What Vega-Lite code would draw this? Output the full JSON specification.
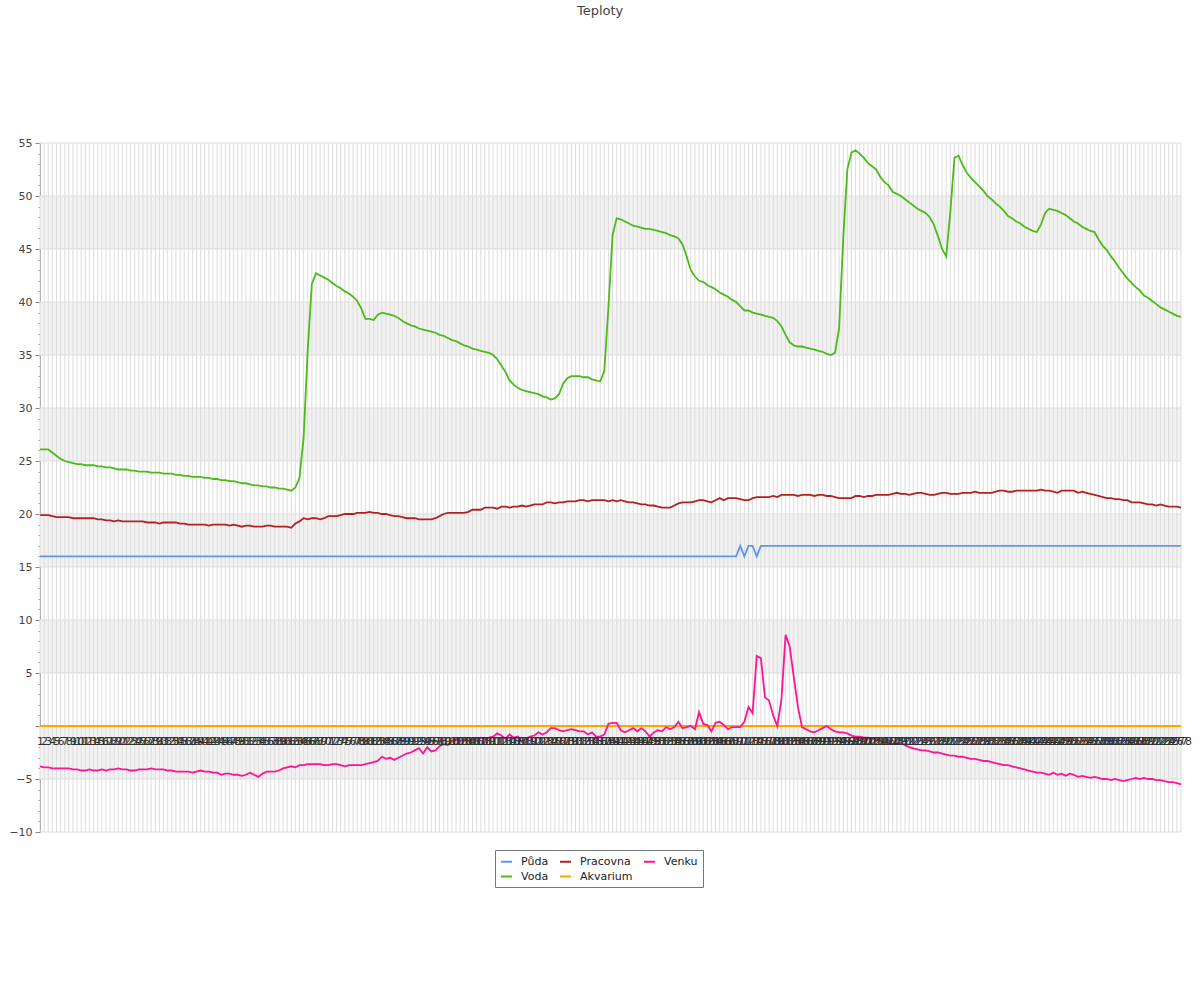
{
"$schema": "https://vega.github.io/schema/vega-lite/v6.json",
"width": 1141, "height": 689,
"autosize": {"type": "none"},
"padding": {"left": 40, "top": 143, "right": 19, "bottom": 168},
"background": "white",
"config": {"font": "DejaVu Sans", "view": {"stroke": null}},
"title": {"text": "Teploty", "fontSize": 13, "fontWeight": "normal", "color": "#444", "anchor": "middle", "frame": "bounds", "offset": 119},
"datasets": {
"bands": [{"lo": -5, "hi": 0}, {"lo": 5, "hi": 10}, {"lo": 15, "hi": 20}, {"lo": 25, "hi": 30}, {"lo": 35, "hi": 40}, {"lo": 45, "hi": 50}],
"hgrid": [{"g": -10}, {"g": -5}, {"g": 0}, {"g": 5}, {"g": 10}, {"g": 15}, {"g": 20}, {"g": 25}, {"g": 30}, {"g": 35}, {"g": 40}, {"g": 45}, {"g": 50}, {"g": 55}]
},
"data": {"values": [
{"t":1,"Půda":16,"Voda":26.1,"Pracovna":19.9,"Akvarium":0,"Venku":-3.8},
{"t":2,"Půda":16,"Voda":26.1,"Pracovna":19.9,"Akvarium":0,"Venku":-3.9},
{"t":3,"Půda":16,"Voda":26.1,"Pracovna":19.9,"Akvarium":0,"Venku":-3.9},
{"t":4,"Půda":16,"Voda":25.8,"Pracovna":19.8,"Akvarium":0,"Venku":-4.0},
{"t":5,"Půda":16,"Voda":25.5,"Pracovna":19.7,"Akvarium":0,"Venku":-4.0},
{"t":6,"Půda":16,"Voda":25.2,"Pracovna":19.7,"Akvarium":0,"Venku":-4.0},
{"t":7,"Půda":16,"Voda":25.0,"Pracovna":19.7,"Akvarium":0,"Venku":-4.0},
{"t":8,"Půda":16,"Voda":24.9,"Pracovna":19.7,"Akvarium":0,"Venku":-4.0},
{"t":9,"Půda":16,"Voda":24.8,"Pracovna":19.6,"Akvarium":0,"Venku":-4.1},
{"t":10,"Půda":16,"Voda":24.7,"Pracovna":19.6,"Akvarium":0,"Venku":-4.1},
{"t":11,"Půda":16,"Voda":24.7,"Pracovna":19.6,"Akvarium":0,"Venku":-4.2},
{"t":12,"Půda":16,"Voda":24.6,"Pracovna":19.6,"Akvarium":0,"Venku":-4.2},
{"t":13,"Půda":16,"Voda":24.6,"Pracovna":19.6,"Akvarium":0,"Venku":-4.1},
{"t":14,"Půda":16,"Voda":24.6,"Pracovna":19.6,"Akvarium":0,"Venku":-4.2},
{"t":15,"Půda":16,"Voda":24.5,"Pracovna":19.5,"Akvarium":0,"Venku":-4.2},
{"t":16,"Půda":16,"Voda":24.5,"Pracovna":19.5,"Akvarium":0,"Venku":-4.1},
{"t":17,"Půda":16,"Voda":24.4,"Pracovna":19.4,"Akvarium":0,"Venku":-4.2},
{"t":18,"Půda":16,"Voda":24.4,"Pracovna":19.4,"Akvarium":0,"Venku":-4.1},
{"t":19,"Půda":16,"Voda":24.3,"Pracovna":19.3,"Akvarium":0,"Venku":-4.1},
{"t":20,"Půda":16,"Voda":24.2,"Pracovna":19.4,"Akvarium":0,"Venku":-4.0},
{"t":21,"Půda":16,"Voda":24.2,"Pracovna":19.3,"Akvarium":0,"Venku":-4.1},
{"t":22,"Půda":16,"Voda":24.2,"Pracovna":19.3,"Akvarium":0,"Venku":-4.1},
{"t":23,"Půda":16,"Voda":24.1,"Pracovna":19.3,"Akvarium":0,"Venku":-4.2},
{"t":24,"Půda":16,"Voda":24.1,"Pracovna":19.3,"Akvarium":0,"Venku":-4.2},
{"t":25,"Půda":16,"Voda":24.0,"Pracovna":19.3,"Akvarium":0,"Venku":-4.1},
{"t":26,"Půda":16,"Voda":24.0,"Pracovna":19.3,"Akvarium":0,"Venku":-4.1},
{"t":27,"Půda":16,"Voda":24.0,"Pracovna":19.2,"Akvarium":0,"Venku":-4.1},
{"t":28,"Půda":16,"Voda":23.9,"Pracovna":19.2,"Akvarium":0,"Venku":-4.0},
{"t":29,"Půda":16,"Voda":23.9,"Pracovna":19.2,"Akvarium":0,"Venku":-4.1},
{"t":30,"Půda":16,"Voda":23.9,"Pracovna":19.1,"Akvarium":0,"Venku":-4.1},
{"t":31,"Půda":16,"Voda":23.8,"Pracovna":19.2,"Akvarium":0,"Venku":-4.1},
{"t":32,"Půda":16,"Voda":23.8,"Pracovna":19.2,"Akvarium":0,"Venku":-4.2},
{"t":33,"Půda":16,"Voda":23.8,"Pracovna":19.2,"Akvarium":0,"Venku":-4.2},
{"t":34,"Půda":16,"Voda":23.7,"Pracovna":19.2,"Akvarium":0,"Venku":-4.3},
{"t":35,"Půda":16,"Voda":23.7,"Pracovna":19.1,"Akvarium":0,"Venku":-4.3},
{"t":36,"Půda":16,"Voda":23.6,"Pracovna":19.1,"Akvarium":0,"Venku":-4.3},
{"t":37,"Půda":16,"Voda":23.6,"Pracovna":19.0,"Akvarium":0,"Venku":-4.3},
{"t":38,"Půda":16,"Voda":23.5,"Pracovna":19.0,"Akvarium":0,"Venku":-4.4},
{"t":39,"Půda":16,"Voda":23.5,"Pracovna":19.0,"Akvarium":0,"Venku":-4.3},
{"t":40,"Půda":16,"Voda":23.5,"Pracovna":19.0,"Akvarium":0,"Venku":-4.2},
{"t":41,"Půda":16,"Voda":23.4,"Pracovna":19.0,"Akvarium":0,"Venku":-4.3},
{"t":42,"Půda":16,"Voda":23.4,"Pracovna":18.9,"Akvarium":0,"Venku":-4.3},
{"t":43,"Půda":16,"Voda":23.3,"Pracovna":19.0,"Akvarium":0,"Venku":-4.4},
{"t":44,"Půda":16,"Voda":23.3,"Pracovna":19.0,"Akvarium":0,"Venku":-4.4},
{"t":45,"Půda":16,"Voda":23.2,"Pracovna":19.0,"Akvarium":0,"Venku":-4.6},
{"t":46,"Půda":16,"Voda":23.2,"Pracovna":19.0,"Akvarium":0,"Venku":-4.5},
{"t":47,"Půda":16,"Voda":23.1,"Pracovna":18.9,"Akvarium":0,"Venku":-4.5},
{"t":48,"Půda":16,"Voda":23.1,"Pracovna":19.0,"Akvarium":0,"Venku":-4.6},
{"t":49,"Půda":16,"Voda":23.0,"Pracovna":18.9,"Akvarium":0,"Venku":-4.6},
{"t":50,"Půda":16,"Voda":22.9,"Pracovna":18.8,"Akvarium":0,"Venku":-4.7},
{"t":51,"Půda":16,"Voda":22.9,"Pracovna":18.9,"Akvarium":0,"Venku":-4.6},
{"t":52,"Půda":16,"Voda":22.8,"Pracovna":18.9,"Akvarium":0,"Venku":-4.4},
{"t":53,"Půda":16,"Voda":22.7,"Pracovna":18.8,"Akvarium":0,"Venku":-4.6},
{"t":54,"Půda":16,"Voda":22.7,"Pracovna":18.8,"Akvarium":0,"Venku":-4.8},
{"t":55,"Půda":16,"Voda":22.6,"Pracovna":18.8,"Akvarium":0,"Venku":-4.5},
{"t":56,"Půda":16,"Voda":22.6,"Pracovna":18.9,"Akvarium":0,"Venku":-4.3},
{"t":57,"Půda":16,"Voda":22.5,"Pracovna":18.9,"Akvarium":0,"Venku":-4.3},
{"t":58,"Půda":16,"Voda":22.5,"Pracovna":18.8,"Akvarium":0,"Venku":-4.3},
{"t":59,"Půda":16,"Voda":22.4,"Pracovna":18.8,"Akvarium":0,"Venku":-4.2},
{"t":60,"Půda":16,"Voda":22.4,"Pracovna":18.8,"Akvarium":0,"Venku":-4.0},
{"t":61,"Půda":16,"Voda":22.3,"Pracovna":18.8,"Akvarium":0,"Venku":-3.9},
{"t":62,"Půda":16,"Voda":22.2,"Pracovna":18.7,"Akvarium":0,"Venku":-3.8},
{"t":63,"Půda":16,"Voda":22.5,"Pracovna":19.1,"Akvarium":0,"Venku":-3.9},
{"t":64,"Půda":16,"Voda":23.4,"Pracovna":19.3,"Akvarium":0,"Venku":-3.7},
{"t":65,"Půda":16,"Voda":27.2,"Pracovna":19.6,"Akvarium":0,"Venku":-3.7},
{"t":66,"Půda":16,"Voda":35.5,"Pracovna":19.5,"Akvarium":0,"Venku":-3.6},
{"t":67,"Půda":16,"Voda":41.7,"Pracovna":19.6,"Akvarium":0,"Venku":-3.6},
{"t":68,"Půda":16,"Voda":42.7,"Pracovna":19.6,"Akvarium":0,"Venku":-3.6},
{"t":69,"Půda":16,"Voda":42.5,"Pracovna":19.5,"Akvarium":0,"Venku":-3.6},
{"t":70,"Půda":16,"Voda":42.3,"Pracovna":19.6,"Akvarium":0,"Venku":-3.7},
{"t":71,"Půda":16,"Voda":42.1,"Pracovna":19.8,"Akvarium":0,"Venku":-3.7},
{"t":72,"Půda":16,"Voda":41.8,"Pracovna":19.8,"Akvarium":0,"Venku":-3.6},
{"t":73,"Půda":16,"Voda":41.5,"Pracovna":19.8,"Akvarium":0,"Venku":-3.6},
{"t":74,"Půda":16,"Voda":41.3,"Pracovna":19.9,"Akvarium":0,"Venku":-3.7},
{"t":75,"Půda":16,"Voda":41.0,"Pracovna":20.0,"Akvarium":0,"Venku":-3.8},
{"t":76,"Půda":16,"Voda":40.8,"Pracovna":20.0,"Akvarium":0,"Venku":-3.7},
{"t":77,"Půda":16,"Voda":40.5,"Pracovna":20.0,"Akvarium":0,"Venku":-3.7},
{"t":78,"Půda":16,"Voda":40.1,"Pracovna":20.1,"Akvarium":0,"Venku":-3.7},
{"t":79,"Půda":16,"Voda":39.4,"Pracovna":20.1,"Akvarium":0,"Venku":-3.7},
{"t":80,"Půda":16,"Voda":38.4,"Pracovna":20.1,"Akvarium":0,"Venku":-3.6},
{"t":81,"Půda":16,"Voda":38.4,"Pracovna":20.2,"Akvarium":0,"Venku":-3.5},
{"t":82,"Půda":16,"Voda":38.3,"Pracovna":20.1,"Akvarium":0,"Venku":-3.4},
{"t":83,"Půda":16,"Voda":38.8,"Pracovna":20.1,"Akvarium":0,"Venku":-3.3},
{"t":84,"Půda":16,"Voda":39.0,"Pracovna":20.0,"Akvarium":0,"Venku":-2.9},
{"t":85,"Půda":16,"Voda":38.9,"Pracovna":20.0,"Akvarium":0,"Venku":-3.1},
{"t":86,"Půda":16,"Voda":38.8,"Pracovna":19.9,"Akvarium":0,"Venku":-3.0},
{"t":87,"Půda":16,"Voda":38.7,"Pracovna":19.8,"Akvarium":0,"Venku":-3.2},
{"t":88,"Půda":16,"Voda":38.5,"Pracovna":19.8,"Akvarium":0,"Venku":-3.0},
{"t":89,"Půda":16,"Voda":38.2,"Pracovna":19.7,"Akvarium":0,"Venku":-2.8},
{"t":90,"Půda":16,"Voda":38.0,"Pracovna":19.6,"Akvarium":0,"Venku":-2.6},
{"t":91,"Půda":16,"Voda":37.8,"Pracovna":19.6,"Akvarium":0,"Venku":-2.5},
{"t":92,"Půda":16,"Voda":37.7,"Pracovna":19.6,"Akvarium":0,"Venku":-2.3},
{"t":93,"Půda":16,"Voda":37.5,"Pracovna":19.5,"Akvarium":0,"Venku":-2.1},
{"t":94,"Půda":16,"Voda":37.4,"Pracovna":19.5,"Akvarium":0,"Venku":-2.6},
{"t":95,"Půda":16,"Voda":37.3,"Pracovna":19.5,"Akvarium":0,"Venku":-2.0},
{"t":96,"Půda":16,"Voda":37.2,"Pracovna":19.5,"Akvarium":0,"Venku":-2.4},
{"t":97,"Půda":16,"Voda":37.1,"Pracovna":19.6,"Akvarium":0,"Venku":-2.3},
{"t":98,"Půda":16,"Voda":36.9,"Pracovna":19.8,"Akvarium":0,"Venku":-1.9},
{"t":99,"Půda":16,"Voda":36.8,"Pracovna":20.0,"Akvarium":0,"Venku":-1.7},
{"t":100,"Půda":16,"Voda":36.6,"Pracovna":20.1,"Akvarium":0,"Venku":-1.8},
{"t":101,"Půda":16,"Voda":36.4,"Pracovna":20.1,"Akvarium":0,"Venku":-1.4},
{"t":102,"Půda":16,"Voda":36.3,"Pracovna":20.1,"Akvarium":0,"Venku":-1.3},
{"t":103,"Půda":16,"Voda":36.1,"Pracovna":20.1,"Akvarium":0,"Venku":-1.4},
{"t":104,"Půda":16,"Voda":35.9,"Pracovna":20.1,"Akvarium":0,"Venku":-1.3},
{"t":105,"Půda":16,"Voda":35.8,"Pracovna":20.2,"Akvarium":0,"Venku":-1.4},
{"t":106,"Půda":16,"Voda":35.6,"Pracovna":20.4,"Akvarium":0,"Venku":-1.3},
{"t":107,"Půda":16,"Voda":35.5,"Pracovna":20.4,"Akvarium":0,"Venku":-1.2},
{"t":108,"Půda":16,"Voda":35.4,"Pracovna":20.4,"Akvarium":0,"Venku":-1.1},
{"t":109,"Půda":16,"Voda":35.3,"Pracovna":20.6,"Akvarium":0,"Venku":-1.2},
{"t":110,"Půda":16,"Voda":35.2,"Pracovna":20.6,"Akvarium":0,"Venku":-1.1},
{"t":111,"Půda":16,"Voda":35.0,"Pracovna":20.6,"Akvarium":0,"Venku":-1.0},
{"t":112,"Půda":16,"Voda":34.6,"Pracovna":20.5,"Akvarium":0,"Venku":-0.7},
{"t":113,"Půda":16,"Voda":34.0,"Pracovna":20.7,"Akvarium":0,"Venku":-0.9},
{"t":114,"Půda":16,"Voda":33.4,"Pracovna":20.7,"Akvarium":0,"Venku":-1.2},
{"t":115,"Půda":16,"Voda":32.6,"Pracovna":20.6,"Akvarium":0,"Venku":-0.8},
{"t":116,"Půda":16,"Voda":32.2,"Pracovna":20.7,"Akvarium":0,"Venku":-1.1},
{"t":117,"Půda":16,"Voda":31.9,"Pracovna":20.7,"Akvarium":0,"Venku":-1.0},
{"t":118,"Půda":16,"Voda":31.7,"Pracovna":20.8,"Akvarium":0,"Venku":-1.5},
{"t":119,"Půda":16,"Voda":31.6,"Pracovna":20.7,"Akvarium":0,"Venku":-1.2},
{"t":120,"Půda":16,"Voda":31.5,"Pracovna":20.8,"Akvarium":0,"Venku":-1.0},
{"t":121,"Půda":16,"Voda":31.4,"Pracovna":20.9,"Akvarium":0,"Venku":-0.9},
{"t":122,"Půda":16,"Voda":31.3,"Pracovna":20.9,"Akvarium":0,"Venku":-0.6},
{"t":123,"Půda":16,"Voda":31.1,"Pracovna":20.9,"Akvarium":0,"Venku":-0.8},
{"t":124,"Půda":16,"Voda":31.0,"Pracovna":21.1,"Akvarium":0,"Venku":-0.6},
{"t":125,"Půda":16,"Voda":30.8,"Pracovna":21.1,"Akvarium":0,"Venku":-0.2},
{"t":126,"Půda":16,"Voda":30.9,"Pracovna":21.0,"Akvarium":0,"Venku":-0.2},
{"t":127,"Půda":16,"Voda":31.3,"Pracovna":21.1,"Akvarium":0,"Venku":-0.4},
{"t":128,"Půda":16,"Voda":32.3,"Pracovna":21.1,"Akvarium":0,"Venku":-0.5},
{"t":129,"Půda":16,"Voda":32.8,"Pracovna":21.2,"Akvarium":0,"Venku":-0.4},
{"t":130,"Půda":16,"Voda":33.0,"Pracovna":21.2,"Akvarium":0,"Venku":-0.3},
{"t":131,"Půda":16,"Voda":33.0,"Pracovna":21.2,"Akvarium":0,"Venku":-0.4},
{"t":132,"Půda":16,"Voda":33.0,"Pracovna":21.3,"Akvarium":0,"Venku":-0.5},
{"t":133,"Půda":16,"Voda":32.9,"Pracovna":21.3,"Akvarium":0,"Venku":-0.5},
{"t":134,"Půda":16,"Voda":32.9,"Pracovna":21.2,"Akvarium":0,"Venku":-0.8},
{"t":135,"Půda":16,"Voda":32.7,"Pracovna":21.3,"Akvarium":0,"Venku":-0.6},
{"t":136,"Půda":16,"Voda":32.6,"Pracovna":21.3,"Akvarium":0,"Venku":-1.0},
{"t":137,"Půda":16,"Voda":32.5,"Pracovna":21.3,"Akvarium":0,"Venku":-1.0},
{"t":138,"Půda":16,"Voda":33.5,"Pracovna":21.3,"Akvarium":0,"Venku":-0.8},
{"t":139,"Půda":16,"Voda":39.5,"Pracovna":21.2,"Akvarium":0,"Venku":0.2},
{"t":140,"Půda":16,"Voda":46.3,"Pracovna":21.3,"Akvarium":0,"Venku":0.3},
{"t":141,"Půda":16,"Voda":47.9,"Pracovna":21.2,"Akvarium":0,"Venku":0.3},
{"t":142,"Půda":16,"Voda":47.8,"Pracovna":21.3,"Akvarium":0,"Venku":-0.4},
{"t":143,"Půda":16,"Voda":47.6,"Pracovna":21.2,"Akvarium":0,"Venku":-0.6},
{"t":144,"Půda":16,"Voda":47.4,"Pracovna":21.1,"Akvarium":0,"Venku":-0.4},
{"t":145,"Půda":16,"Voda":47.2,"Pracovna":21.1,"Akvarium":0,"Venku":-0.2},
{"t":146,"Půda":16,"Voda":47.1,"Pracovna":21.0,"Akvarium":0,"Venku":-0.5},
{"t":147,"Půda":16,"Voda":47.0,"Pracovna":20.9,"Akvarium":0,"Venku":-0.2},
{"t":148,"Půda":16,"Voda":46.9,"Pracovna":20.9,"Akvarium":0,"Venku":-0.5},
{"t":149,"Půda":16,"Voda":46.9,"Pracovna":20.8,"Akvarium":0,"Venku":-1.0},
{"t":150,"Půda":16,"Voda":46.8,"Pracovna":20.8,"Akvarium":0,"Venku":-0.6},
{"t":151,"Půda":16,"Voda":46.7,"Pracovna":20.7,"Akvarium":0,"Venku":-0.4},
{"t":152,"Půda":16,"Voda":46.6,"Pracovna":20.6,"Akvarium":0,"Venku":-0.5},
{"t":153,"Půda":16,"Voda":46.5,"Pracovna":20.6,"Akvarium":0,"Venku":-0.1},
{"t":154,"Půda":16,"Voda":46.3,"Pracovna":20.6,"Akvarium":0,"Venku":-0.3},
{"t":155,"Půda":16,"Voda":46.2,"Pracovna":20.8,"Akvarium":0,"Venku":-0.1},
{"t":156,"Půda":16,"Voda":46.0,"Pracovna":21.0,"Akvarium":0,"Venku":0.4},
{"t":157,"Půda":16,"Voda":45.4,"Pracovna":21.1,"Akvarium":0,"Venku":-0.2},
{"t":158,"Půda":16,"Voda":44.3,"Pracovna":21.1,"Akvarium":0,"Venku":-0.1},
{"t":159,"Půda":16,"Voda":43.0,"Pracovna":21.1,"Akvarium":0,"Venku":0.0},
{"t":160,"Půda":16,"Voda":42.4,"Pracovna":21.2,"Akvarium":0,"Venku":-0.3},
{"t":161,"Půda":16,"Voda":42.0,"Pracovna":21.3,"Akvarium":0,"Venku":1.3},
{"t":162,"Půda":16,"Voda":41.9,"Pracovna":21.3,"Akvarium":0,"Venku":0.2},
{"t":163,"Půda":16,"Voda":41.6,"Pracovna":21.2,"Akvarium":0,"Venku":0.1},
{"t":164,"Půda":16,"Voda":41.4,"Pracovna":21.1,"Akvarium":0,"Venku":-0.5},
{"t":165,"Půda":16,"Voda":41.2,"Pracovna":21.3,"Akvarium":0,"Venku":0.3},
{"t":166,"Půda":16,"Voda":40.9,"Pracovna":21.5,"Akvarium":0,"Venku":0.4},
{"t":167,"Půda":16,"Voda":40.7,"Pracovna":21.3,"Akvarium":0,"Venku":0.1},
{"t":168,"Půda":16,"Voda":40.5,"Pracovna":21.5,"Akvarium":0,"Venku":-0.3},
{"t":169,"Půda":16,"Voda":40.2,"Pracovna":21.5,"Akvarium":0,"Venku":-0.1},
{"t":170,"Půda":16,"Voda":40.0,"Pracovna":21.5,"Akvarium":0,"Venku":-0.1},
{"t":171,"Půda":17,"Voda":39.6,"Pracovna":21.4,"Akvarium":0,"Venku":-0.1},
{"t":172,"Půda":16,"Voda":39.2,"Pracovna":21.3,"Akvarium":0,"Venku":0.4},
{"t":173,"Půda":17,"Voda":39.2,"Pracovna":21.3,"Akvarium":0,"Venku":1.8},
{"t":174,"Půda":17,"Voda":39.0,"Pracovna":21.5,"Akvarium":0,"Venku":1.2},
{"t":175,"Půda":16,"Voda":38.9,"Pracovna":21.6,"Akvarium":0,"Venku":6.6},
{"t":176,"Půda":17,"Voda":38.8,"Pracovna":21.6,"Akvarium":0,"Venku":6.4},
{"t":177,"Půda":17,"Voda":38.7,"Pracovna":21.6,"Akvarium":0,"Venku":2.7},
{"t":178,"Půda":17,"Voda":38.6,"Pracovna":21.6,"Akvarium":0,"Venku":2.4},
{"t":179,"Půda":17,"Voda":38.5,"Pracovna":21.7,"Akvarium":0,"Venku":1.0},
{"t":180,"Půda":17,"Voda":38.2,"Pracovna":21.6,"Akvarium":0,"Venku":0.0},
{"t":181,"Půda":17,"Voda":37.7,"Pracovna":21.8,"Akvarium":0,"Venku":2.5},
{"t":182,"Půda":17,"Voda":36.9,"Pracovna":21.8,"Akvarium":0,"Venku":8.6},
{"t":183,"Půda":17,"Voda":36.2,"Pracovna":21.8,"Akvarium":0,"Venku":7.5},
{"t":184,"Půda":17,"Voda":35.9,"Pracovna":21.8,"Akvarium":0,"Venku":4.6},
{"t":185,"Půda":17,"Voda":35.8,"Pracovna":21.7,"Akvarium":0,"Venku":1.8},
{"t":186,"Půda":17,"Voda":35.8,"Pracovna":21.8,"Akvarium":0,"Venku":-0.1},
{"t":187,"Půda":17,"Voda":35.7,"Pracovna":21.8,"Akvarium":0,"Venku":-0.3},
{"t":188,"Půda":17,"Voda":35.6,"Pracovna":21.8,"Akvarium":0,"Venku":-0.5},
{"t":189,"Půda":17,"Voda":35.5,"Pracovna":21.7,"Akvarium":0,"Venku":-0.6},
{"t":190,"Půda":17,"Voda":35.4,"Pracovna":21.8,"Akvarium":0,"Venku":-0.4},
{"t":191,"Půda":17,"Voda":35.3,"Pracovna":21.8,"Akvarium":0,"Venku":-0.2},
{"t":192,"Půda":17,"Voda":35.1,"Pracovna":21.7,"Akvarium":0,"Venku":0.0},
{"t":193,"Půda":17,"Voda":35.0,"Pracovna":21.7,"Akvarium":0,"Venku":-0.3},
{"t":194,"Půda":17,"Voda":35.2,"Pracovna":21.6,"Akvarium":0,"Venku":-0.5},
{"t":195,"Půda":17,"Voda":37.5,"Pracovna":21.5,"Akvarium":0,"Venku":-0.6},
{"t":196,"Půda":17,"Voda":46.0,"Pracovna":21.5,"Akvarium":0,"Venku":-0.6},
{"t":197,"Půda":17,"Voda":52.5,"Pracovna":21.5,"Akvarium":0,"Venku":-0.7},
{"t":198,"Půda":17,"Voda":54.1,"Pracovna":21.5,"Akvarium":0,"Venku":-0.9},
{"t":199,"Půda":17,"Voda":54.3,"Pracovna":21.7,"Akvarium":0,"Venku":-1.0},
{"t":200,"Půda":17,"Voda":54.0,"Pracovna":21.7,"Akvarium":0,"Venku":-1.0},
{"t":201,"Půda":17,"Voda":53.6,"Pracovna":21.6,"Akvarium":0,"Venku":-1.1},
{"t":202,"Půda":17,"Voda":53.1,"Pracovna":21.7,"Akvarium":0,"Venku":-1.1},
{"t":203,"Půda":17,"Voda":52.8,"Pracovna":21.7,"Akvarium":0,"Venku":-1.2},
{"t":204,"Půda":17,"Voda":52.5,"Pracovna":21.8,"Akvarium":0,"Venku":-1.3},
{"t":205,"Půda":17,"Voda":51.8,"Pracovna":21.8,"Akvarium":0,"Venku":-1.4},
{"t":206,"Půda":17,"Voda":51.3,"Pracovna":21.8,"Akvarium":0,"Venku":-1.5},
{"t":207,"Půda":17,"Voda":51.0,"Pracovna":21.8,"Akvarium":0,"Venku":-1.6},
{"t":208,"Půda":17,"Voda":50.4,"Pracovna":21.9,"Akvarium":0,"Venku":-1.7},
{"t":209,"Půda":17,"Voda":50.2,"Pracovna":22.0,"Akvarium":0,"Venku":-1.7},
{"t":210,"Půda":17,"Voda":50.0,"Pracovna":21.9,"Akvarium":0,"Venku":-1.6},
{"t":211,"Půda":17,"Voda":49.7,"Pracovna":21.9,"Akvarium":0,"Venku":-1.8},
{"t":212,"Půda":17,"Voda":49.4,"Pracovna":21.8,"Akvarium":0,"Venku":-2.0},
{"t":213,"Půda":17,"Voda":49.1,"Pracovna":21.9,"Akvarium":0,"Venku":-2.1},
{"t":214,"Půda":17,"Voda":48.8,"Pracovna":22.0,"Akvarium":0,"Venku":-2.2},
{"t":215,"Půda":17,"Voda":48.6,"Pracovna":22.0,"Akvarium":0,"Venku":-2.3},
{"t":216,"Půda":17,"Voda":48.4,"Pracovna":21.9,"Akvarium":0,"Venku":-2.3},
{"t":217,"Půda":17,"Voda":48.0,"Pracovna":21.8,"Akvarium":0,"Venku":-2.4},
{"t":218,"Půda":17,"Voda":47.3,"Pracovna":21.8,"Akvarium":0,"Venku":-2.5},
{"t":219,"Půda":17,"Voda":46.2,"Pracovna":21.9,"Akvarium":0,"Venku":-2.5},
{"t":220,"Půda":17,"Voda":45.0,"Pracovna":22.0,"Akvarium":0,"Venku":-2.6},
{"t":221,"Půda":17,"Voda":44.3,"Pracovna":22.0,"Akvarium":0,"Venku":-2.7},
{"t":222,"Půda":17,"Voda":48.5,"Pracovna":21.9,"Akvarium":0,"Venku":-2.8},
{"t":223,"Půda":17,"Voda":53.6,"Pracovna":21.9,"Akvarium":0,"Venku":-2.8},
{"t":224,"Půda":17,"Voda":53.8,"Pracovna":21.9,"Akvarium":0,"Venku":-2.9},
{"t":225,"Půda":17,"Voda":52.9,"Pracovna":22.0,"Akvarium":0,"Venku":-2.9},
{"t":226,"Půda":17,"Voda":52.2,"Pracovna":22.0,"Akvarium":0,"Venku":-3.0},
{"t":227,"Půda":17,"Voda":51.7,"Pracovna":22.0,"Akvarium":0,"Venku":-3.1},
{"t":228,"Půda":17,"Voda":51.3,"Pracovna":22.1,"Akvarium":0,"Venku":-3.1},
{"t":229,"Půda":17,"Voda":50.9,"Pracovna":22.0,"Akvarium":0,"Venku":-3.2},
{"t":230,"Půda":17,"Voda":50.5,"Pracovna":22.0,"Akvarium":0,"Venku":-3.3},
{"t":231,"Půda":17,"Voda":50.0,"Pracovna":22.0,"Akvarium":0,"Venku":-3.3},
{"t":232,"Půda":17,"Voda":49.7,"Pracovna":22.0,"Akvarium":0,"Venku":-3.4},
{"t":233,"Půda":17,"Voda":49.3,"Pracovna":22.1,"Akvarium":0,"Venku":-3.5},
{"t":234,"Půda":17,"Voda":49.0,"Pracovna":22.2,"Akvarium":0,"Venku":-3.6},
{"t":235,"Půda":17,"Voda":48.6,"Pracovna":22.2,"Akvarium":0,"Venku":-3.7},
{"t":236,"Půda":17,"Voda":48.1,"Pracovna":22.1,"Akvarium":0,"Venku":-3.7},
{"t":237,"Půda":17,"Voda":47.9,"Pracovna":22.1,"Akvarium":0,"Venku":-3.8},
{"t":238,"Půda":17,"Voda":47.6,"Pracovna":22.2,"Akvarium":0,"Venku":-3.9},
{"t":239,"Půda":17,"Voda":47.4,"Pracovna":22.2,"Akvarium":0,"Venku":-4.0},
{"t":240,"Půda":17,"Voda":47.1,"Pracovna":22.2,"Akvarium":0,"Venku":-4.1},
{"t":241,"Půda":17,"Voda":46.9,"Pracovna":22.2,"Akvarium":0,"Venku":-4.2},
{"t":242,"Půda":17,"Voda":46.7,"Pracovna":22.2,"Akvarium":0,"Venku":-4.3},
{"t":243,"Půda":17,"Voda":46.6,"Pracovna":22.2,"Akvarium":0,"Venku":-4.4},
{"t":244,"Půda":17,"Voda":47.3,"Pracovna":22.3,"Akvarium":0,"Venku":-4.4},
{"t":245,"Půda":17,"Voda":48.4,"Pracovna":22.2,"Akvarium":0,"Venku":-4.5},
{"t":246,"Půda":17,"Voda":48.8,"Pracovna":22.2,"Akvarium":0,"Venku":-4.6},
{"t":247,"Půda":17,"Voda":48.7,"Pracovna":22.1,"Akvarium":0,"Venku":-4.4},
{"t":248,"Půda":17,"Voda":48.6,"Pracovna":22.0,"Akvarium":0,"Venku":-4.6},
{"t":249,"Půda":17,"Voda":48.4,"Pracovna":22.2,"Akvarium":0,"Venku":-4.5},
{"t":250,"Půda":17,"Voda":48.2,"Pracovna":22.2,"Akvarium":0,"Venku":-4.7},
{"t":251,"Půda":17,"Voda":47.9,"Pracovna":22.2,"Akvarium":0,"Venku":-4.5},
{"t":252,"Půda":17,"Voda":47.6,"Pracovna":22.2,"Akvarium":0,"Venku":-4.6},
{"t":253,"Půda":17,"Voda":47.4,"Pracovna":22.0,"Akvarium":0,"Venku":-4.8},
{"t":254,"Půda":17,"Voda":47.1,"Pracovna":22.1,"Akvarium":0,"Venku":-4.7},
{"t":255,"Půda":17,"Voda":46.9,"Pracovna":22.0,"Akvarium":0,"Venku":-4.8},
{"t":256,"Půda":17,"Voda":46.7,"Pracovna":21.9,"Akvarium":0,"Venku":-4.9},
{"t":257,"Půda":17,"Voda":46.6,"Pracovna":21.8,"Akvarium":0,"Venku":-4.8},
{"t":258,"Půda":17,"Voda":45.9,"Pracovna":21.7,"Akvarium":0,"Venku":-4.9},
{"t":259,"Půda":17,"Voda":45.3,"Pracovna":21.6,"Akvarium":0,"Venku":-5.0},
{"t":260,"Půda":17,"Voda":44.9,"Pracovna":21.5,"Akvarium":0,"Venku":-5.0},
{"t":261,"Půda":17,"Voda":44.3,"Pracovna":21.5,"Akvarium":0,"Venku":-5.1},
{"t":262,"Půda":17,"Voda":43.8,"Pracovna":21.4,"Akvarium":0,"Venku":-5.0},
{"t":263,"Půda":17,"Voda":43.2,"Pracovna":21.4,"Akvarium":0,"Venku":-5.1},
{"t":264,"Půda":17,"Voda":42.7,"Pracovna":21.3,"Akvarium":0,"Venku":-5.2},
{"t":265,"Půda":17,"Voda":42.2,"Pracovna":21.3,"Akvarium":0,"Venku":-5.1},
{"t":266,"Půda":17,"Voda":41.8,"Pracovna":21.1,"Akvarium":0,"Venku":-5.0},
{"t":267,"Půda":17,"Voda":41.4,"Pracovna":21.1,"Akvarium":0,"Venku":-4.9},
{"t":268,"Půda":17,"Voda":41.1,"Pracovna":21.1,"Akvarium":0,"Venku":-5.0},
{"t":269,"Půda":17,"Voda":40.6,"Pracovna":21.0,"Akvarium":0,"Venku":-4.9},
{"t":270,"Půda":17,"Voda":40.4,"Pracovna":20.9,"Akvarium":0,"Venku":-5.0},
{"t":271,"Půda":17,"Voda":40.1,"Pracovna":20.9,"Akvarium":0,"Venku":-5.0},
{"t":272,"Půda":17,"Voda":39.8,"Pracovna":20.8,"Akvarium":0,"Venku":-5.1},
{"t":273,"Půda":17,"Voda":39.5,"Pracovna":20.9,"Akvarium":0,"Venku":-5.1},
{"t":274,"Půda":17,"Voda":39.3,"Pracovna":20.8,"Akvarium":0,"Venku":-5.2},
{"t":275,"Půda":17,"Voda":39.1,"Pracovna":20.7,"Akvarium":0,"Venku":-5.3},
{"t":276,"Půda":17,"Voda":38.9,"Pracovna":20.7,"Akvarium":0,"Venku":-5.3},
{"t":277,"Půda":17,"Voda":38.7,"Pracovna":20.7,"Akvarium":0,"Venku":-5.4},
{"t":278,"Půda":17,"Voda":38.6,"Pracovna":20.6,"Akvarium":0,"Venku":-5.5}
]},
"layer": [
{"data": {"name": "bands"}, "mark": {"type": "rect", "color": "#f2f2f2"},
 "encoding": {
  "y": {"field": "lo", "type": "quantitative", "scale": {"domain": [-10, 55], "nice": false, "zero": false},
        "axis": {"title": null, "grid": false, "values": [-10,-9,-8,-7,-6,-5,-4,-3,-2,-1,0,1,2,3,4,5,6,7,8,9,10,11,12,13,14,15,16,17,18,19,20,21,22,23,24,25,26,27,28,29,30,31,32,33,34,35,36,37,38,39,40,41,42,43,44,45,46,47,48,49,50,51,52,53,54,55],
                 "labelExpr": "datum.value % 5 === 0 && datum.value !== 0 ? datum.label : ''",
                 "tickSize": {"condition": {"test": "datum.value % 5 === 0", "value": 5}, "value": 2},
                 "tickColor": "#888", "domainColor": "#888", "labelFontSize": 11, "labelColor": "#444", "labelPadding": 3}},
  "y2": {"field": "hi"}}},
{"mark": {"type": "rule", "color": "#dddddd", "strokeWidth": 1},
 "encoding": {"x": {"field": "t", "type": "ordinal", "scale": {"type": "point", "padding": 0},
   "axis": {"title": null, "labelAngle": 0, "labelOverlap": false, "domain": false, "ticks": false, "grid": false, "offset": -106, "labelPadding": 9, "labelFontSize": 11, "labelColor": "#333", "labelFlush": false, "labelBound": false, "zindex": 1}}}},
{"data": {"name": "hgrid"}, "mark": {"type": "rule", "color": "#dddddd", "strokeWidth": 1},
 "encoding": {"y": {"field": "g", "type": "quantitative", "scale": {"domain": [-10, 55], "nice": false, "zero": false},
        "axis": {"title": null, "grid": false, "values": [-10,-9,-8,-7,-6,-5,-4,-3,-2,-1,0,1,2,3,4,5,6,7,8,9,10,11,12,13,14,15,16,17,18,19,20,21,22,23,24,25,26,27,28,29,30,31,32,33,34,35,36,37,38,39,40,41,42,43,44,45,46,47,48,49,50,51,52,53,54,55],
                 "labelExpr": "datum.value % 5 === 0 && datum.value !== 0 ? datum.label : ''",
                 "tickSize": {"condition": {"test": "datum.value % 5 === 0", "value": 5}, "value": 2},
                 "tickColor": "#888", "domainColor": "#888", "labelFontSize": 11, "labelColor": "#444", "labelPadding": 3}}}},
{"transform": [{"fold": ["Půda", "Voda", "Pracovna", "Akvarium", "Venku"], "as": ["serie", "val"]}],
 "mark": {"type": "line", "strokeWidth": 1.8},
 "encoding": {
  "x": {"field": "t", "type": "ordinal", "scale": {"type": "point", "padding": 0},
   "axis": {"title": null, "labelAngle": 0, "labelOverlap": false, "domain": false, "ticks": false, "grid": false, "offset": -106, "labelPadding": 9, "labelFontSize": 11, "labelColor": "#333", "labelFlush": false, "labelBound": false, "zindex": 1}},
  "y": {"field": "val", "type": "quantitative", "scale": {"domain": [-10, 55], "nice": false, "zero": false},
        "axis": {"title": null, "grid": false, "values": [-10,-9,-8,-7,-6,-5,-4,-3,-2,-1,0,1,2,3,4,5,6,7,8,9,10,11,12,13,14,15,16,17,18,19,20,21,22,23,24,25,26,27,28,29,30,31,32,33,34,35,36,37,38,39,40,41,42,43,44,45,46,47,48,49,50,51,52,53,54,55],
                 "labelExpr": "datum.value % 5 === 0 && datum.value !== 0 ? datum.label : ''",
                 "tickSize": {"condition": {"test": "datum.value % 5 === 0", "value": 5}, "value": 2},
                 "tickColor": "#888", "domainColor": "#888", "labelFontSize": 11, "labelColor": "#444", "labelPadding": 3}},
  "color": {"field": "serie", "type": "nominal",
   "scale": {"domain": ["Půda", "Voda", "Pracovna", "Akvarium", "Venku"], "range": ["#6495ED", "#4CBB17", "#B22222", "#FFA500", "#FF1493"]},
   "legend": {"orient": "none", "legendX": 455, "legendY": 707, "columns": 3, "title": null, "symbolType": "stroke", "symbolStrokeWidth": 2, "symbolSize": 121, "labelFontSize": 11, "labelColor": "#222", "strokeColor": "#777", "fillColor": "white", "padding": 5, "rowPadding": 3, "columnPadding": 7, "labelOffset": 8}}
 }}
]
}
